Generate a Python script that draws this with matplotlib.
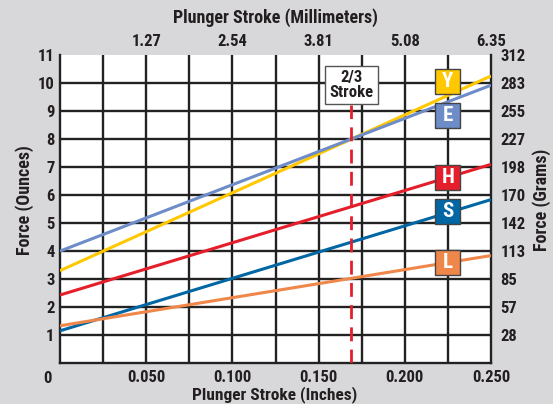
import matplotlib
matplotlib.use("Agg")
import matplotlib.pyplot as plt
from matplotlib import font_manager
from matplotlib.patches import Rectangle

names = {f.name for f in font_manager.fontManager.ttflist}
FONT = 'Liberation Sans'
for cand in ['Liberation Sans Narrow', 'Roboto Condensed', 'Open Sans Condensed',
             'DejaVu Sans Condensed', 'Liberation Sans']:
    if cand in names:
        FONT = cand
        break
plt.rcParams['font.family'] = [FONT, 'DejaVu Sans']

# Data (force in ounces vs stroke in inches)
stroke_in = [0.0, 0.25]
series_names = ['Y', 'E', 'H', 'S', 'L']
force_Y = [3.29, 10.25]
force_E = [3.99, 9.92]
force_H = [2.42, 7.09]
force_S = [1.14, 5.83]
force_L = [1.32, 3.83]
colors = {'Y': '#FFC800', 'E': '#6E8CC8', 'H': '#E41E2A', 'S': '#0066A4', 'L': '#F0874A'}
label_pos = {'Y': 10.05, 'E': 8.85, 'H': 6.62, 'S': 5.42, 'L': 3.57}
label_x = 0.225

bottom_ticks = [0.050, 0.100, 0.150, 0.200, 0.250]
bottom_labels = ['0.050', '0.100', '0.150', '0.200', '0.250']
top_labels = ['1.27', '2.54', '3.81', '5.08', '6.35']
left_ticks = list(range(1, 12))
gram_labels = ['28', '57', '85', '113', '142', '170', '198', '227', '255', '283', '312']
two_thirds = 0.169

BG = '#D8D7D9'
TXT = '#231F20'
TS = 12

fig = plt.figure(figsize=(5.53, 4.04), dpi=100, facecolor=BG)
ax = fig.add_axes([60/553, 1-362.7/404, 431/553, 307.7/404])
ax.set_facecolor('white')
ax.set_xlim(0, 0.25)
ax.set_ylim(0, 11)

# grid
for i in range(1, 10):
    ax.axvline(i*0.025, color='#222222', lw=1.7, zorder=1)
for j in range(1, 11):
    ax.axhline(j, color='#222222', lw=1.7, zorder=1)
for s in ax.spines.values():
    s.set_color('#222222'); s.set_linewidth(1.7)
ax.spines['top'].set_visible(False)

for name, vals in zip(series_names, [force_Y, force_E, force_H, force_S, force_L]):
    ax.plot(stroke_in, vals, color=colors[name], lw=2.2, zorder=3, solid_capstyle='butt')

ax.axvline(two_thirds, color='#E41E2A', lw=2, ls=(0, (5, 3)), zorder=4, ymax=9.2/11)

# label boxes
bw = 25/431*0.25
bh = 25/27.97
for name in series_names:
    yc = label_pos[name]
    ax.add_patch(Rectangle((label_x-bw/2, yc-bh/2), bw, bh, facecolor=colors[name],
                           edgecolor='#444444', lw=1, zorder=5))
    ax.text(label_x, yc, name, color='white', fontsize=15, fontweight='bold',
            ha='center', va='center', zorder=6)

ax.text(two_thirds, 9.93, '2/3\nStroke', ha='center', va='center', fontsize=12,
        fontweight='bold', color=TXT, linespacing=1.0, zorder=6,
        bbox=dict(boxstyle='square,pad=0.25', facecolor='white', edgecolor='#555555', lw=1))

ax.set_xticks(bottom_ticks)
ax.set_xticklabels(bottom_labels)
ax.set_yticks(left_ticks)
ax.set_yticklabels([str(v) for v in left_ticks])
ax.tick_params(axis='both', length=0, labelsize=TS, labelcolor=TXT)
ax.tick_params(axis='x', pad=5)
ax.tick_params(axis='y', pad=4)
for lbl in ax.get_xticklabels() + ax.get_yticklabels():
    lbl.set_fontweight('bold')

ax.text(-0.0075, -0.55, '0', transform=ax.transData, ha='center', va='center',
        fontsize=TS, fontweight='bold', color=TXT)

# top axis
axt = ax.secondary_xaxis('top')
axt.set_xticks(bottom_ticks)
axt.set_xticklabels(top_labels)
axt.tick_params(length=0, labelsize=TS, labelcolor=TXT, pad=4)
for lbl in axt.get_xticklabels():
    lbl.set_fontweight('bold')
axt.spines['top'].set_visible(False)

# right axis
axr = ax.secondary_yaxis('right')
axr.set_yticks(left_ticks)
axr.set_yticklabels(gram_labels)
axr.tick_params(length=0, labelsize=TS, labelcolor=TXT, pad=7)
for lbl in axr.get_yticklabels():
    lbl.set_fontweight('bold')
axr.spines['right'].set_visible(False)

fig.text(275/553, 1-18/404, 'Plunger Stroke (Millimeters)', ha='center', va='center',
         fontsize=13, fontweight='bold', color=TXT)
fig.text(25/553, 1-200/404, 'Force (Ounces)', ha='center', va='center', rotation=90,
         fontsize=13, fontweight='bold', color=TXT)
fig.text(542/553, 1-200/404, 'Force (Grams)', ha='center', va='center', rotation=90,
         fontsize=13, fontweight='bold', color=TXT)

# place bottom title just below the tick labels
fig.canvas.draw()
r = fig.canvas.get_renderer()
tick_bottom = min(l.get_window_extent(r).y0 for l in ax.get_xticklabels())
fig.text(275/553, (tick_bottom - 1) / fig.bbox.height, 'Plunger Stroke (Inches)',
         ha='center', va='top', fontsize=12.5, fontweight='bold', color=TXT)

fig.savefig('out.png', dpi=100, facecolor=BG)
